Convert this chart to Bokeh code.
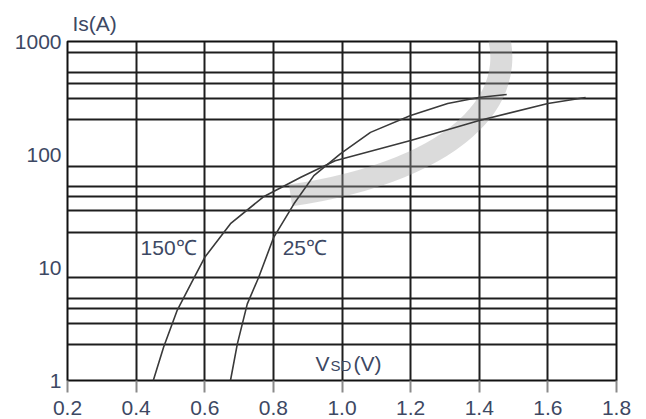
from bokeh.plotting import figure
from bokeh.models import Label, FixedTicker, NumeralTickFormatter
from bokeh.embed import file_html
from bokeh.resources import INLINE

# Source current vs. source-drain voltage, two junction temperatures
v_150 = [0.45, 0.48, 0.52, 0.56, 0.60, 0.675, 0.77, 0.88, 0.98, 1.20, 1.40, 1.60, 1.71]
i_150 = [1.0, 1.97, 4.2, 7.2, 12.3, 24.4, 42, 63, 88, 133, 200, 283, 320]

v_25 = [0.675, 0.695, 0.724, 0.757, 0.801, 0.86, 0.918, 0.996, 1.083, 1.20, 1.308, 1.398, 1.48]
i_25 = [1.0, 2.11, 4.77, 8.16, 18.5, 36.6, 65, 102, 157, 221, 283, 319, 340]

x_ticks = [0.2, 0.4, 0.6, 0.8, 1.0, 1.2, 1.4, 1.6, 1.8]
y_ticks = [1, 10, 100, 1000]
y_grid = [1, 2.08, 3.2, 4.34, 5.3, 8.2, 20.4, 32, 42.5, 52, 78, 204, 313, 425, 532, 800, 1000]

TEXT = "#3d4863"
GRID = "#1e1e1e"
FONT = "Liberation Sans"

p = figure(width=646, height=419, y_axis_type="log",
           x_range=(0.2, 1.8), y_range=(1, 1000),
           output_backend="svg", toolbar_location=None,
           min_border_left=67, min_border_right=30,
           min_border_top=41, min_border_bottom=39)

p.background_fill_color = "white"
p.border_fill_color = "white"
p.outline_line_color = "#111111"
p.outline_line_width = 2

# y-axis caption sits in the title slot, above the frame's left corner
p.title.text = "Is(A)"
p.title.align = "left"
p.title.offset = 5
p.title.standoff = 14
p.title.text_font = FONT
p.title.text_font_size = "21px"
p.title.text_font_style = "normal"
p.title.text_color = TEXT

# grid
p.xgrid.ticker = FixedTicker(ticks=x_ticks)
p.ygrid.ticker = FixedTicker(ticks=y_grid)
for g in (p.xgrid, p.ygrid):
    g.grid_line_color = GRID
    g.grid_line_width = 2
    g.grid_line_alpha = 1.0
p.ygrid.minor_grid_line_color = None

# x axis
xa = p.xaxis[0]
xa.ticker = FixedTicker(ticks=x_ticks)
xa.formatter = NumeralTickFormatter(format="0.0")
xa.axis_line_color = None
xa.major_tick_line_color = "#8a8a8a"
xa.major_tick_line_width = 2
xa.major_tick_in = 0
xa.major_tick_out = 12
xa.minor_tick_line_color = None
xa.major_label_standoff = 8
xa.major_label_text_font = FONT
xa.major_label_text_font_size = "21px"
xa.major_label_text_color = TEXT

# y axis
ya = p.yaxis[0]
ya.ticker = FixedTicker(ticks=y_ticks)
ya.formatter = NumeralTickFormatter(format="0")
ya.axis_line_color = None
ya.major_tick_line_color = None
ya.major_tick_in = 0
ya.major_tick_out = 0
ya.minor_tick_line_color = None
ya.major_label_standoff = 6
ya.major_label_text_font = FONT
ya.major_label_text_font_size = "21px"
ya.major_label_text_color = TEXT

# faint grey swoosh of the background watermark
p.bezier(x0=[1.41], y0=[2307], x1=[0.85], y1=[43.4],
         cx0=[1.5786], cy0=[368], cx1=[1.3454], cy1=[72.2],
         line_color="#a0a0a0", line_alpha=0.38, line_width=22, line_cap="butt")

# curves
p.line(v_150, i_150, line_color="#3a3a3a", line_width=1.6)
p.line(v_25, i_25, line_color="#3a3a3a", line_width=1.6)

# text labels
def lab(x, y, t, size="21px", dx=0):
    p.add_layout(Label(x=x, y=y, text=t, x_offset=dx, text_font=FONT,
                       text_font_size=size, text_color=TEXT,
                       text_baseline="middle", text_align="left"))

lab(0.413, 15.0, "150℃")
lab(0.827, 15.0, "25℃")
lab(0.923, 1.414, "V")
lab(0.923, 1.344, "SD", size="15px", dx=15)
lab(0.923, 1.414, "(V)", dx=38)

open("out.html", "w").write(file_html(p, INLINE))
